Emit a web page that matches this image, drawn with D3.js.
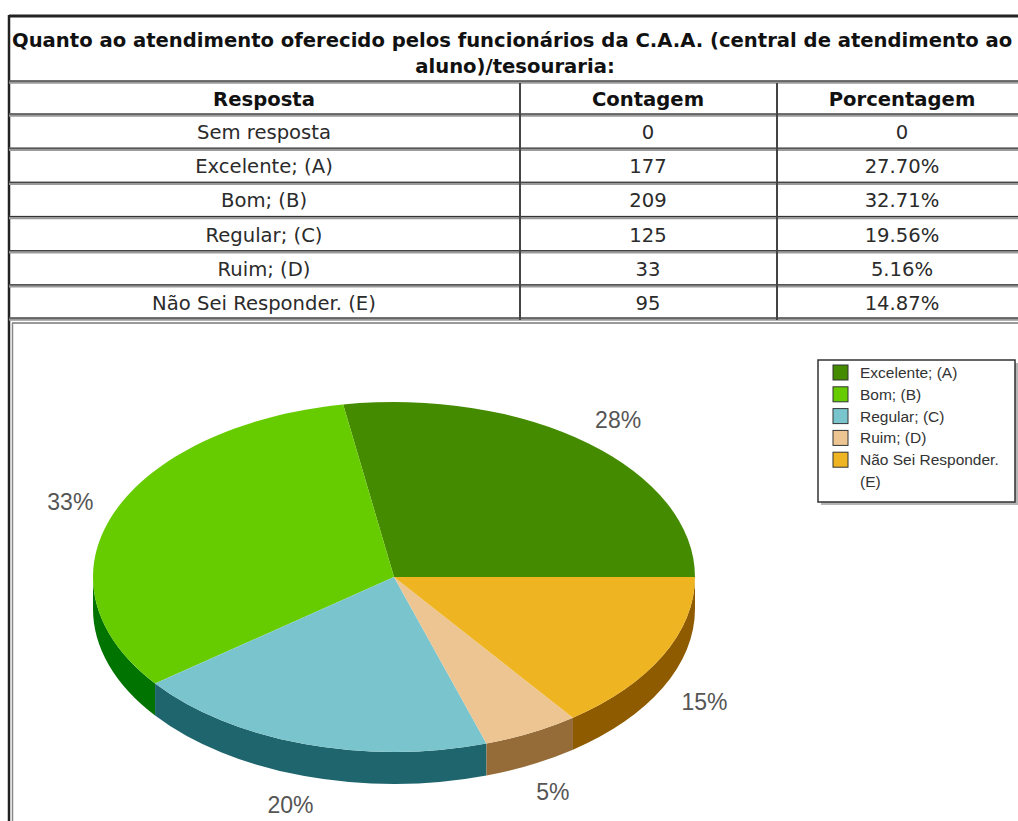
<!DOCTYPE html>
<html>
<head>
<meta charset="utf-8">
<script src="https://cdn.jsdelivr.net/npm/d3@7"></script>
<style>
  body { margin: 0; background: #fff; }
  svg { display: block; }
</style>
</head>
<body>
<div id="chart"></div>
<script>
// table data
const title1 = "Quanto ao atendimento oferecido pelos funcionários da C.A.A. (central de atendimento ao";
const title2 = "aluno)/tesouraria:";
const headers = ["Resposta", "Contagem", "Porcentagem"];
const respostas = ["Sem resposta", "Excelente; (A)", "Bom; (B)", "Regular; (C)", "Ruim; (D)", "Não Sei Responder. (E)"];
const contagens = ["0", "177", "209", "125", "33", "95"];
const porcentagens = ["0", "27.70%", "32.71%", "19.56%", "5.16%", "14.87%"];

// pie data
const categories = ["Excelente; (A)", "Bom; (B)", "Regular; (C)", "Ruim; (D)", "Não Sei Responder. (E)"];
const counts = [177, 209, 125, 33, 95];
const pctLabels = ["28%", "33%", "20%", "5%", "15%"];
const legendLines = [["Excelente; (A)"], ["Bom; (B)"], ["Regular; (C)"], ["Ruim; (D)"], ["Não Sei Responder.", "(E)"]];
const topColors = ["#458b00", "#66cc00", "#7ac5cd", "#edc593", "#eeb422"];
const sideColors = ["#2e5c00", "#007300", "#1e656d", "#956b38", "#8f5b00"];

const width = 1018, height = 821;
const svg = d3.select("#chart").append("svg")
    .attr("width", width)
    .attr("height", height);

const bodyFont = '"DejaVu Sans", Verdana, sans-serif';

// ---- TABLE ----
const tLeft = 9, tRight = 1026;
const colX = [tLeft, 520, 777, tRight];
const colCenter = [264, 648, 902];

const rowY = d3.scaleBand()
    .domain(d3.range(respostas.length))
    .range([115, 320]);

// outer frame
svg.append("line").attr("x1", tLeft).attr("x2", tRight).attr("y1", 16).attr("y2", 16)
    .attr("stroke", "#222").attr("stroke-width", 3);
svg.append("line").attr("x1", tLeft).attr("x2", tLeft).attr("y1", 15).attr("y2", height)
    .attr("stroke", "#222").attr("stroke-width", 2.5);

svg.append("text")
    .attr("x", 12).attr("y", 47)
    .attr("font-family", bodyFont)
    .attr("font-weight", "bold").attr("font-size", 19.6).attr("fill", "#111")
    .text(title1);
svg.append("text")
    .attr("x", 515).attr("y", 73)
    .attr("text-anchor", "middle")
    .attr("font-family", bodyFont)
    .attr("font-weight", "bold").attr("font-size", 19.6).attr("fill", "#111")
    .text(title2);

// horizontal row separators (double line look)
const sepYs = [82, 115].concat(d3.range(1, respostas.length).map(i => rowY(i)), [319]);
sepYs.forEach(y => {
    svg.append("line").attr("x1", tLeft).attr("x2", tRight).attr("y1", y).attr("y2", y)
        .attr("stroke", "#9a9a9a").attr("stroke-width", 3.5);
    svg.append("line").attr("x1", tLeft).attr("x2", tRight).attr("y1", y - 1).attr("y2", y - 1)
        .attr("stroke", "#333").attr("stroke-width", 1);
});

// column separators
[colX[1], colX[2]].forEach(x => {
    svg.append("line").attr("x1", x).attr("x2", x).attr("y1", 83).attr("y2", 320)
        .attr("stroke", "#444").attr("stroke-width", 2);
});

svg.append("g").selectAll("text")
    .data(headers)
    .join("text")
    .attr("x", (d, i) => colCenter[i])
    .attr("y", 106)
    .attr("text-anchor", "middle")
    .attr("font-family", bodyFont)
    .attr("font-weight", "bold").attr("font-size", 19.6).attr("fill", "#111")
    .text(d => d);

const rows = svg.append("g").selectAll("g")
    .data(respostas.map((r, i) => [r, contagens[i], porcentagens[i]]))
    .join("g")
    .attr("transform", (d, i) => `translate(0,${rowY(i) + rowY.bandwidth() / 2 + 7})`);

rows.selectAll("text")
    .data(d => d)
    .join("text")
    .attr("x", (d, i) => colCenter[i])
    .attr("text-anchor", "middle")
    .attr("font-family", bodyFont)
    .attr("font-size", 19.6).attr("fill", "#2b2b2b")
    .text(d => d);

// chart area frame
svg.append("line").attr("x1", 12).attr("x2", tRight).attr("y1", 323).attr("y2", 323)
    .attr("stroke", "#777").attr("stroke-width", 1.5);
svg.append("line").attr("x1", 12.5).attr("x2", 12.5).attr("y1", 323).attr("y2", height)
    .attr("stroke", "#888").attr("stroke-width", 1.5);

// ---- 3D PIE ----
const cx = 394, cy = 577, rx = 301, ry = 175, depth = 32;
const k = ry / rx;

// angles measured ccw from 3 o'clock, starting at 0
const pie = d3.pie().sort(null).startAngle(0).endAngle(2 * Math.PI);
const slices = pie(counts).map((s, i) => ({ i, t0: s.startAngle, t1: s.endAngle }));

const pieG = svg.append("g")
    .attr("transform", `translate(${cx},${cy}) scale(1,${k})`);

// side walls for the front half (pi..2pi in math angles)
const dScaled = depth / k;
function sidePath(a0, a1) {
    // canvas angles: math angle t -> canvas angle -t (screen y down)
    const p = d3.path();
    p.moveTo(rx * Math.cos(-a0), rx * Math.sin(-a0));
    p.arc(0, 0, rx, -a0, -a1, true);
    p.lineTo(rx * Math.cos(-a1), rx * Math.sin(-a1) + dScaled);
    p.arc(0, dScaled, rx, -a1, -a0, false);
    p.closePath();
    return p.toString();
}
slices.forEach(s => {
    const a0 = Math.max(s.t0, Math.PI), a1 = Math.min(s.t1, 2 * Math.PI);
    if (a1 > a0) {
        pieG.append("path")
            .attr("d", sidePath(a0, a1))
            .attr("fill", sideColors[s.i]);
    }
});

// top faces
const arc = d3.arc().innerRadius(0).outerRadius(rx);
pieG.selectAll("path.top")
    .data(slices)
    .join("path")
    .attr("class", "top")
    .attr("d", s => arc({ startAngle: Math.PI / 2 - s.t0, endAngle: Math.PI / 2 - s.t1 }))
    .attr("fill", s => topColors[s.i]);

// percentage labels
const lfx = 1.155, lfy = 1.17;
svg.append("g").selectAll("text")
    .data(slices)
    .join("text")
    .attr("x", s => cx + lfx * rx * Math.cos((s.t0 + s.t1) / 2))
    .attr("y", s => {
        const m = (s.t0 + s.t1) / 2;
        return cy - lfy * ry * Math.sin(m) + (Math.sin(m) < 0 ? depth + 1 : 0);
    })
    .attr("text-anchor", "middle")
    .attr("dominant-baseline", "central")
    .attr("font-family", '"Liberation Sans", Arial, sans-serif')
    .attr("font-size", 23).attr("fill", "#555")
    .text(s => pctLabels[s.i]);

// ---- LEGEND ----
const legX = 818, legY = 360, legW = 197, legH = 142;
svg.append("rect").attr("x", legX + 3).attr("y", legY + 3).attr("width", legW).attr("height", legH)
    .attr("fill", "#b5b5b5");
svg.append("rect").attr("x", legX).attr("y", legY).attr("width", legW).attr("height", legH)
    .attr("fill", "#fff").attr("stroke", "#333").attr("stroke-width", 1.5);

const legRow = d3.scaleLinear().domain([0, 1]).range([365, 386.8]);
const legend = svg.append("g").selectAll("g")
    .data(categories)
    .join("g")
    .attr("transform", (d, i) => `translate(833,${legRow(i)})`);
legend.append("rect")
    .attr("width", 15).attr("height", 15)
    .attr("fill", (d, i) => topColors[i])
    .attr("stroke", "#333").attr("stroke-width", 1);
legend.append("text")
    .attr("x", 27).attr("y", 13)
    .attr("font-family", '"Liberation Sans", Arial, sans-serif')
    .attr("font-size", 15.5).attr("fill", "#333")
    .selectAll("tspan")
    .data((d, i) => legendLines[i])
    .join("tspan")
    .attr("x", 27)
    .attr("dy", (d, j) => j === 0 ? 0 : 22)
    .text(d => d);
</script>
</body>
</html>
